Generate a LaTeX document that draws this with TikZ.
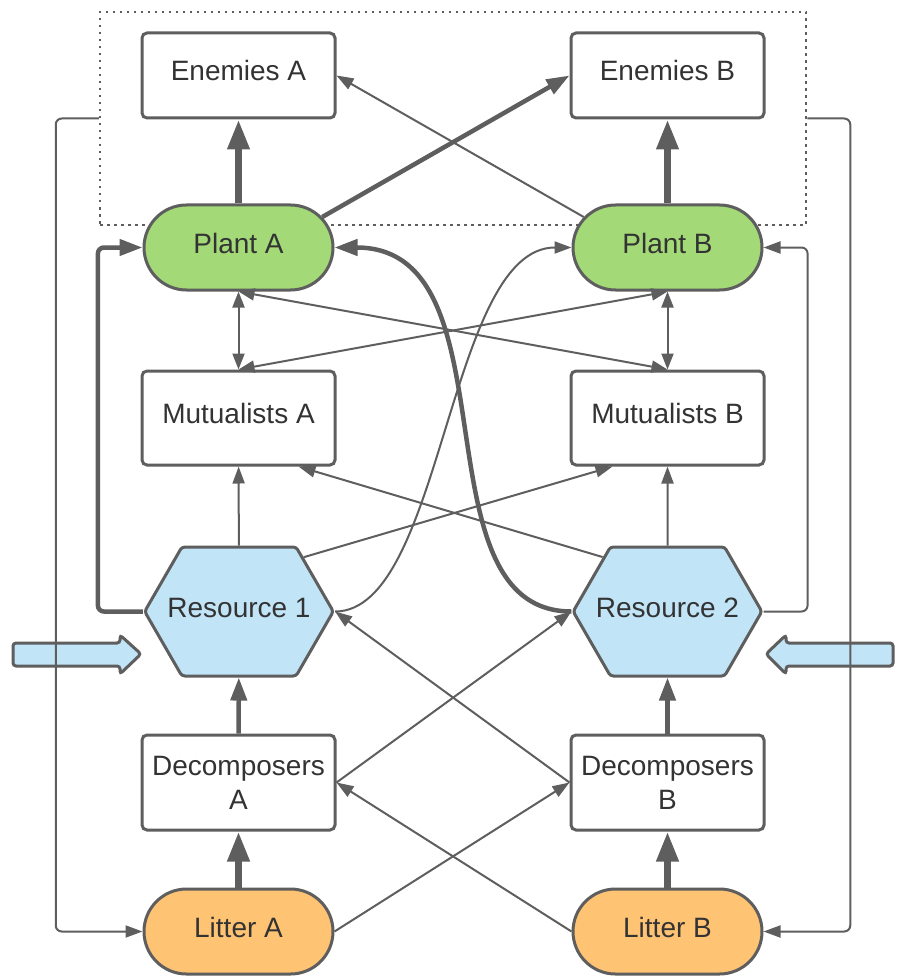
\documentclass[tikz,border=0pt]{standalone}
\usepackage{fontspec}
\setmainfont{Liberation Sans}
\usetikzlibrary{arrows.meta,shapes.misc,shapes.symbols}
\definecolor{edgeGray}{HTML}{5E5E5E}
\definecolor{textGray}{HTML}{333333}
\definecolor{plantGreen}{HTML}{A3D977}
\definecolor{litterOrange}{HTML}{FFC374}
\definecolor{resourceBlue}{HTML}{C1E4F7}

\tikzset{
	every node/.style={font=\fontsize{28}{34}\selectfont, text=textGray, inner sep=2pt},
	oneline/.style={text height=20pt, text depth=9pt},
	guild/.style={draw=edgeGray, line width=3pt, fill=white, rectangle, rounded corners=5pt,
		minimum width=193pt, minimum height=85pt},
	pool/.style={draw=edgeGray, line width=3pt, rounded rectangle,
		minimum width=193pt, minimum height=85pt, oneline},
	resource/.style={draw=edgeGray, line width=3pt, fill=resourceBlue, signal,
		signal to=west and east, signal pointer angle=120, rounded corners=3pt,
		inner xsep=-14.5pt, minimum height=129pt, oneline},
	zone/.style={draw=edgeGray, line width=2.5pt, dash pattern=on 2.5pt off 4.5pt,
		minimum width=706pt, minimum height=213pt},
	inflow/.style={draw=edgeGray, line width=3pt, fill=resourceBlue, rounded corners=3pt},
	lightflow/.style={draw=edgeGray, line width=2pt, -{Triangle[length=17pt,width=12pt]}},
	midflow/.style={draw=edgeGray, line width=4.5pt, -{Triangle[length=23pt,width=16pt]}},
	heavyflow/.style={draw=edgeGray, line width=7pt, -{Triangle[length=30pt,width=21pt]}},
	mutual/.style={draw=edgeGray, line width=2pt,
		{Triangle[length=16pt,width=12pt]}-{Triangle[length=16pt,width=12pt]}},
}

\begin{document}
\begin{tikzpicture}[x=1pt, y=-1pt]
	\useasboundingbox (0,0) rectangle (896,976);

	% enemies frame and outside inputs
	\node[zone] (enemyzone) at (453,118.5) {};
	\filldraw[inflow] (13,643) -- (120,643) -- (120,635) -- (141,654) -- (120,674) -- (120,666) -- (13,666) -- cycle;
	\filldraw[inflow] (893,643) -- (786,643) -- (786,635) -- (766,654) -- (786,674) -- (786,666) -- (893,666) -- cycle;

	% side A
	\node[guild, oneline] (enA) at (238.5,75.5) {Enemies A};
	\node[pool, fill=plantGreen] (plA) at (238.5,247.5) {Plant A};
	\node[guild, oneline, minimum height=94pt] (mutA) at (238.5,418) {Mutualists A};
	\node[resource] (resA) at (239,611.5) {Resource 1};
	\node[guild, align=center, minimum height=95pt] (decA) at (238.5,782.5) {Decomposers\\A};
	\node[pool, fill=litterOrange] (litA) at (238.5,931.5) {Litter A};

	% side B
	\node[guild, oneline] (enB) at (667.5,75.5) {Enemies B};
	\node[pool, fill=plantGreen] (plB) at (667.5,247.5) {Plant B};
	\node[guild, oneline, minimum height=94pt] (mutB) at (667.5,418) {Mutualists B};
	\node[resource] (resB) at (667.5,611.5) {Resource 2};
	\node[guild, align=center, minimum height=95pt] (decB) at (667.5,782.5) {Decomposers\\B};
	\node[pool, fill=litterOrange] (litB) at (667.5,931.5) {Litter B};

	% plants -> enemies
	\draw[heavyflow] (plA) -- (enA);
	\draw[heavyflow] (plB) -- (enB);
	\draw[midflow] (plA.20) -- (enB.west);
	\draw[lightflow] (plB.160) -- (enA.east);

	% plants <-> mutualists
	\draw[mutual] (plA) -- (mutA);
	\draw[mutual] (plB) -- (mutB);
	\draw[mutual] (plA.south) -- (mutB.north);
	\draw[mutual] (plB.south) -- (mutA.north);

	% resources
	\draw[lightflow] (resA) -- (mutA);
	\draw[lightflow] (resB) -- (mutB);
	\draw[lightflow] (resA.40) -- ([xshift=-55pt]mutB.south);
	\draw[lightflow] (resB.140) -- ([xshift=60pt]mutA.south);
	\draw[midflow, rounded corners=6pt] (resA.west) -- ++(-45,0) |- (plA.west);
	\draw[lightflow, rounded corners=6pt] (resB.east) -- ++(44,0) |- (plB.east);
	\draw[lightflow] (resA.east) .. controls +(108,0) and +(-124,0) .. (plB.west);
	\draw[midflow] (resB.west) .. controls +(-159,0) and +(184,0) .. (plA.east);

	% decomposers and litter
	\draw[midflow] (decA) -- (resA);
	\draw[midflow] (decB) -- (resB);
	\draw[lightflow] (decA.east) -- (resB.west);
	\draw[lightflow] (decB.west) -- (resA.east);
	\draw[heavyflow] (litA) -- (decA);
	\draw[heavyflow] (litB) -- (decB);
	\draw[lightflow] (litA.east) -- (decB.west);
	\draw[lightflow] (litB.west) -- (decA.east);

	% enemies back to litter
	\draw[lightflow, rounded corners=6pt] (enemyzone.west) -- ++(-43,0) |- (litA.west);
	\draw[lightflow, rounded corners=6pt] (enemyzone.east) -- ++(43,0) |- (litB.east);
\end{tikzpicture}
\end{document}
